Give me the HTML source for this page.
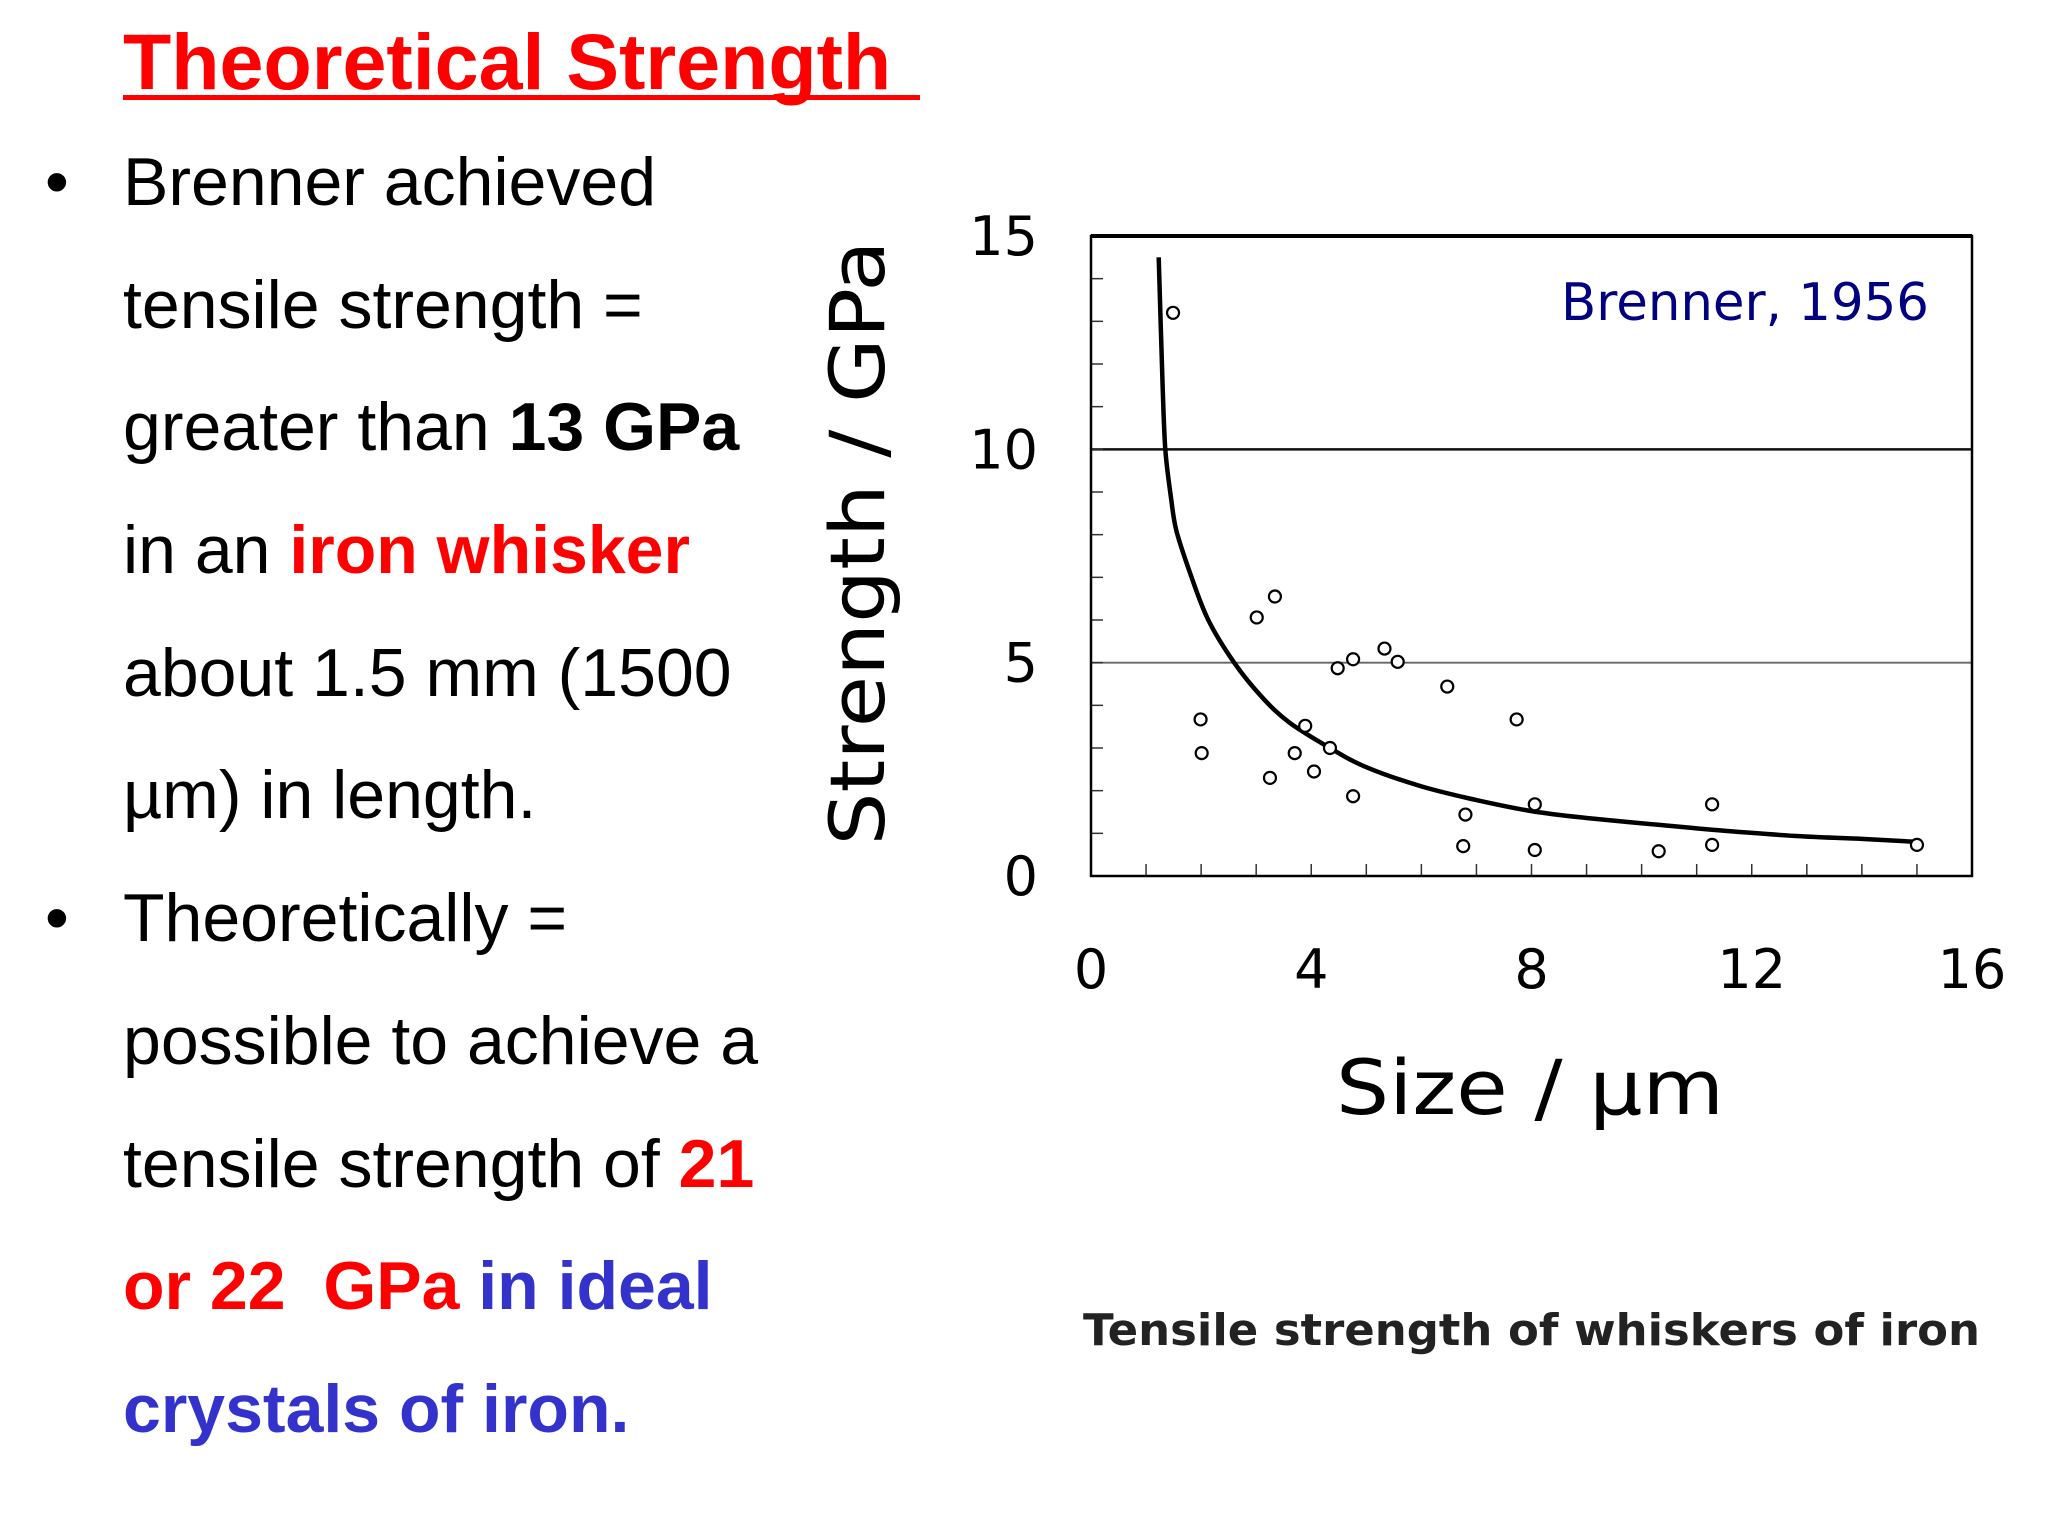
<!DOCTYPE html>
<html><head><meta charset="utf-8">
<style>
html,body{margin:0;padding:0;background:#fff;}
svg{display:block;}
</style></head>
<body>
<svg id="slide" width="2048" height="1536" viewBox="0 0 2048 1536" xmlns="http://www.w3.org/2000/svg">
<rect width="2048" height="1536" fill="#fff"/>
<g font-family="Liberation Sans, Arial, sans-serif" font-size="68" fill="#000">
  <text x="123" y="89" font-size="79" font-weight="bold" fill="#ff0000">Theoretical Strength </text>
  <rect x="123" y="95" width="797" height="5" fill="#ff0000"/>
  <text x="45" y="205">•</text>
  <text x="123" y="205">Brenner achieved</text>
  <text x="123" y="328">tensile strength =</text>
  <text x="123" y="450">greater than <tspan font-weight="bold">13 GPa</tspan></text>
  <text x="123" y="573">in an <tspan font-weight="bold" fill="#ff0000">iron whisker</tspan></text>
  <text x="123" y="696">about 1.5 mm (1500</text>
  <text x="123" y="818">µm) in length.</text>
  <text x="45" y="941">•</text>
  <text x="123" y="941">Theoretically =</text>
  <text x="123" y="1064">possible to achieve a</text>
  <text x="123" y="1187">tensile strength of <tspan font-weight="bold" fill="#ff0000">21</tspan></text>
  <text x="123" y="1309" font-weight="bold"><tspan fill="#ff0000" xml:space="preserve">or 22  GPa</tspan><tspan fill="#3333cc"> in ideal</tspan></text>
  <text x="123" y="1432" font-weight="bold" fill="#3333cc">crystals of iron.</text>
</g>
<g id="chart"></g>
</svg>
<script>
const xTicks = [0, 4, 8, 12, 16];
const yTicks = [0, 5, 10, 15];
const gridValues = [5, 10];
const pointX = [1.49, 1.99, 2.01, 3.01, 3.34, 3.25, 3.70, 3.89, 4.05, 4.34, 4.48, 4.76, 4.76, 5.33, 5.57, 6.47, 6.80, 6.76, 7.73, 8.06, 8.06, 10.31, 11.28, 11.28, 15.0];
const pointY = [13.2, 3.67, 2.88, 6.06, 6.55, 2.30, 2.88, 3.52, 2.45, 3.0, 4.87, 5.08, 1.87, 5.33, 5.02, 4.44, 1.44, 0.70, 3.67, 1.68, 0.61, 0.58, 1.68, 0.73, 0.73];
const curveX = [1.23, 1.3, 1.35, 1.45, 1.55, 1.8, 2.13, 2.6, 3.1, 3.6, 4.34, 5.0, 6.0, 7.0, 8.0, 9.0, 10.3, 11.5, 12.9, 14.0, 15.0];
const curveY = [14.5, 11.5, 10.0, 8.9, 8.1, 7.1, 6.0, 5.0, 4.2, 3.6, 3.0, 2.55, 2.1, 1.78, 1.52, 1.36, 1.2, 1.06, 0.93, 0.87, 0.8];

const NS = 'http://www.w3.org/2000/svg';
const L = 1091, R = 1972, T = 236, B = 876;
const xMin = 0, xMax = 16, yMin = 0, yMax = 15;
function sx(v){ return L + (v - xMin) / (xMax - xMin) * (R - L); }
function sy(v){ return B - (v - yMin) / (yMax - yMin) * (B - T); }
const chart = document.getElementById('chart');
function mk(tag, attrs, parent){
  const e = document.createElementNS(NS, tag);
  for (const k in attrs) e.setAttribute(k, attrs[k]);
  (parent || chart).appendChild(e);
  return e;
}
const font = 'DejaVu Sans, Verdana, sans-serif';

gridValues.forEach(v => {
  const g = mk('line', {x1:L, x2:R, y1:sy(v), y2:sy(v), stroke: v===10 ? '#111' : '#666', 'stroke-width': v===10 ? 2.5 : 1.8});
  
  
});
for (let v = 1; v < 15; v++) {
  const t = mk('line', {x1:L, x2:L+12, y1:sy(v), y2:sy(v), stroke:'#333', 'stroke-width':1.5});
  
  
}
for (let v = 1; v < 16; v++) {
  const t = mk('line', {x1:sx(v), x2:sx(v), y1:B, y2:B-12, stroke:'#333', 'stroke-width':1.5});
  
  
}
const frame = mk('rect', {x:L, y:T, width:R-L, height:B-T, fill:'none', stroke:'#000', 'stroke-width':2.5});


const topLine = mk('line', {x1:L, x2:R, y1:T, y2:T, stroke:'#000', 'stroke-width':4});



yTicks.forEach(v => {
  const t = mk('text', {x:1038, y:sy(v)+19, 'text-anchor':'end', 'font-family':font, 'font-size':54, fill:'#000'});
  t.textContent = v;
  
  
});
xTicks.forEach(v => {
  const t = mk('text', {x:sx(v), y:988, 'text-anchor':'middle', 'font-family':font, 'font-size':54, fill:'#000'});
  t.textContent = v;
  
  
});

const yt = mk('text', {x:0, y:0, transform:'translate(884,543) rotate(-90)', 'text-anchor':'middle', 'font-family':font, 'font-size':76, fill:'#000', textLength:605, lengthAdjust:'spacingAndGlyphs'});
yt.textContent = 'Strength / GPa';


const xt = mk('text', {x:1530, y:1114, 'text-anchor':'middle', 'font-family':font, 'font-size':76, fill:'#000', textLength:388, lengthAdjust:'spacingAndGlyphs'});
xt.textContent = 'Size / µm';



const an = mk('text', {x:1929, y:320, 'text-anchor':'end', 'font-family':'"Comic Sans MS", DejaVu Sans, sans-serif', 'font-size':52, fill:'#000080', textLength:368, lengthAdjust:'spacingAndGlyphs'});
an.textContent = 'Brenner, 1956';



const P = curveX.map((x, i) => [sx(x), sy(curveY[i])]);
let d = 'M' + P[0][0].toFixed(1) + ',' + P[0][1].toFixed(1);
for (let i = 0; i < P.length - 1; i++) {
  const p0 = P[Math.max(0, i-1)], p1 = P[i], p2 = P[i+1], p3 = P[Math.min(P.length-1, i+2)];
  const c1 = [p1[0] + (p2[0]-p0[0])/6, p1[1] + (p2[1]-p0[1])/6];
  const c2 = [p2[0] - (p3[0]-p1[0])/6, p2[1] - (p3[1]-p1[1])/6];
  d += 'C' + c1[0].toFixed(1) + ',' + c1[1].toFixed(1) + ' ' + c2[0].toFixed(1) + ',' + c2[1].toFixed(1) + ' ' + p2[0].toFixed(1) + ',' + p2[1].toFixed(1);
}
const cv = mk('path', {d:d, fill:'none', stroke:'#000', 'stroke-width':4.5, 'stroke-linejoin':'round'});



pointX.forEach((x, i) => {
  const c = mk('circle', {cx:sx(x), cy:sy(pointY[i]), r:6, fill:'#fff', stroke:'#000', 'stroke-width':2.2});
  
  
});

const cap = mk('text', {x:1083, y:1345, 'font-family':font, 'font-size':44, 'font-weight':'600', fill:'#222', textLength:897, lengthAdjust:'spacingAndGlyphs'});
cap.textContent = 'Tensile strength of whiskers of iron';


</script>
</body></html>
